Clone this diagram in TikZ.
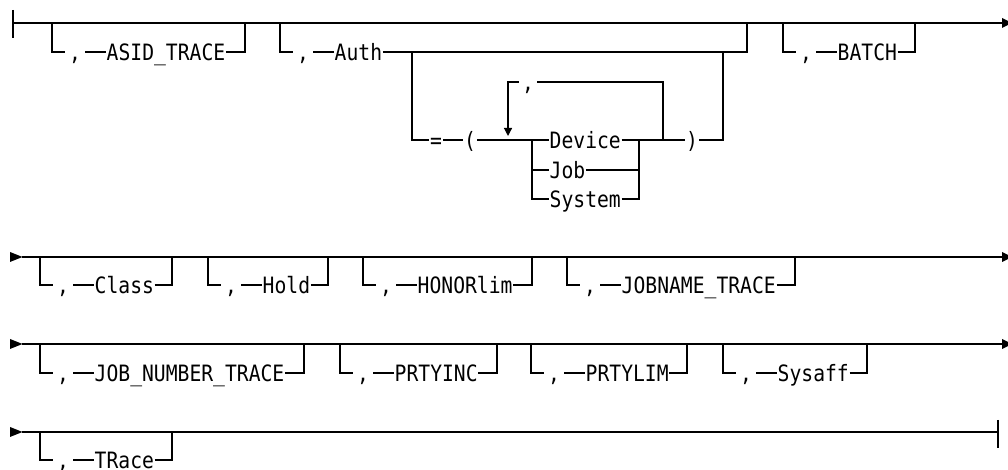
\documentclass[tikz,border=0pt]{standalone}
\usepackage{fontspec}
\newfontfamily\railfont[FakeStretch=0.875]{DejaVu Sans Mono}
\usetikzlibrary{arrows.meta}
\tikzset{
  rail/.style={line width=1.2pt, line join=miter, draw=black},
  kw/.style={inner xsep=0.5pt, inner ysep=0pt, font=\railfont\fontsize{22.5}{26}\selectfont,
             text height=16.4pt, text depth=0pt},
  commabox/.style={kw, minimum width=20pt},
  symbox/.style={kw, minimum width=14pt},
  tipfill/.style={fill=black}
}
% optional group: name, x left, x right, y main, y option, keyword
\newcommand\optgrp[6]{%
  \coordinate (#1-tl) at (#2,#4);
  \coordinate (#1-bl) at (#2,#5);
  \coordinate (#1-tr) at (#3,#4);
  \coordinate (#1-br) at (#3,#5);
  \node[commabox] (#1-c) at (#2+23,#5) {,};
  \node[kw,anchor=west] (#1-t) at (#2+54,#5) {#6};
  \draw[rail] (#1-tl) -- (#1-bl) -- (#1-c.west);
  \draw[rail] (#1-c.east) -- (#1-t.west);
  \draw[rail] (#1-t.east) -- (#1-br) -- (#1-tr);
}
\newcommand\railend[2]{% name, y : arrow at right end
  \coordinate (#1) at (1002,#2);
  \fill[tipfill] (1002,#2+5) -- (1012,#2) -- (1002,#2-5) -- cycle;
}
\newcommand\railstart[2]{% name, y : arrow at left start
  \coordinate (#1) at (22,#2);
  \fill[tipfill] (10,#2+5) -- (22.5,#2) -- (10,#2-5) -- cycle;
}
\begin{document}
\begin{tikzpicture}[x=1pt,y=1pt]
\path[use as bounding box] (0,0) rectangle (1008,470);

% ---------------- Row 1 ----------------
\coordinate (s1) at (13,447);
\coordinate (s1a) at (13,460);
\coordinate (s1b) at (13,432);
\draw[rail] (s1a) -- (s1b);
\railend{e1}{447}
\draw[rail] (s1) -- (e1);

\optgrp{asid}{52}{245}{447}{418}{ASID\_TRACE}

% Auth group
\coordinate (au-tl) at (280,447);
\coordinate (au-bl) at (280,418);
\coordinate (au-tr) at (747,447);
\coordinate (au-br) at (747,418);
\coordinate (au-jl) at (412,418);
\coordinate (au-jr) at (723,418);
\node[commabox] (au-c) at (303,418) {,};
\node[kw,anchor=west] (au-t) at (334,418) {Auth};
\draw[rail] (au-tl) -- (au-bl) -- (au-c.west);
\draw[rail] (au-c.east) -- (au-t.west);
\draw[rail] (au-t.east) -- (au-br) -- (au-tr);

\coordinate (eq-l) at (412,330);
\node[symbox] (eq) at (436,330) {=};
\node[symbox] (lp) at (470,330) {(};
\coordinate (ch-l) at (532,330);
\coordinate (ch-l2) at (532,300);
\coordinate (ch-l3) at (532,271);
\node[kw,anchor=west] (dev) at (549,330) {Device};
\node[kw,anchor=west] (job) at (549,300) {Job};
\node[kw,anchor=west] (sys) at (549,271) {System};
\coordinate (ch-r) at (639,330);
\coordinate (ch-r2) at (639,300);
\coordinate (ch-r3) at (639,271);
\coordinate (lp-r) at (663,330);
\coordinate (lp-rt) at (663,388);
\coordinate (lp-lt) at (508,388);
\coordinate (lp-tip) at (508,334);
\node[kw, minimum width=18pt] (lp-c) at (528,388) {,};
\node[symbox] (rp) at (692,330) {)};
\coordinate (rp-r) at (723,330);

\draw[rail] (au-jl) -- (eq-l) -- (eq.west);
\draw[rail] (eq.east) -- (lp.west);
\draw[rail] (lp.east) -- (ch-l) -- (dev.west);
\draw[rail] (ch-l) -- (ch-l3) -- (sys.west);
\draw[rail] (ch-l2) -- (job.west);
\draw[rail] (dev.east) -- (ch-r);
\draw[rail] (job.east) -- (ch-r2);
\draw[rail] (sys.east) -- (ch-r3) -- (ch-r);
\draw[rail] (ch-r) -- (lp-r) -- (rp.west);
\draw[rail] (rp.east) -- (rp-r) -- (au-jr);
\draw[rail] (lp-r) -- (lp-rt) -- (lp-c.east);
\draw[rail, -{Triangle[length=8pt,width=8pt]}] (lp-c.west) -- (lp-lt) -- (lp-tip);

\optgrp{batch}{783}{915}{447}{418}{BATCH}

% ---------------- Row 2 ----------------
\railstart{s2}{213}
\railend{e2}{213}
\draw[rail] (s2) -- (e2);
\optgrp{class}{40}{172}{213}{185}{Class}
\optgrp{hold}{208}{328}{213}{185}{Hold}
\optgrp{honor}{363}{532}{213}{185}{HONORlim}
\optgrp{jobname}{567}{795}{213}{185}{JOBNAME\_TRACE}

% ---------------- Row 3 ----------------
\railstart{s3}{126}
\railend{e3}{126}
\draw[rail] (s3) -- (e3);
\optgrp{jobnum}{40}{304}{126}{97}{JOB\_NUMBER\_TRACE}
\optgrp{prtyinc}{340}{497}{126}{97}{PRTYINC}
\optgrp{prtylim}{531}{687}{126}{97}{PRTYLIM}
\optgrp{sysaff}{723}{867}{126}{97}{Sysaff}

% ---------------- Row 4 ----------------
\railstart{s4}{38}
\coordinate (e4) at (998,38);
\coordinate (e4a) at (998,50);
\coordinate (e4b) at (998,22);
\draw[rail] (s4) -- (e4);
\draw[rail] (e4a) -- (e4b);
\optgrp{trace}{40}{172}{38}{10}{TRace}

\end{tikzpicture}
\end{document}
